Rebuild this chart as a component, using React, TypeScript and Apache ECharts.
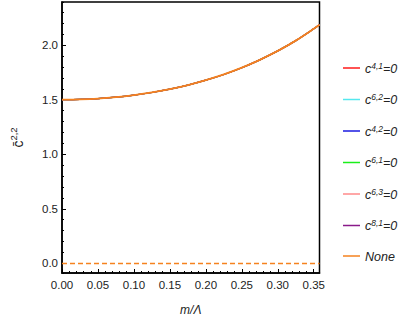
import React, { useEffect, useRef } from "react";
import * as echarts from "echarts";

const mValues = [0, 0.025, 0.05, 0.075, 0.1, 0.125, 0.15, 0.175, 0.2, 0.225, 0.25, 0.275, 0.3, 0.325, 0.35, 0.358];
const curveValues = [1.5, 1.503, 1.51, 1.523, 1.542, 1.566, 1.597, 1.634, 1.679, 1.731, 1.793, 1.865, 1.947, 2.041, 2.149, 2.186];
const zeroM = [0, 0.358];
const zeroValues = [0, 0];

const seriesNames = ["c41", "c62", "c42", "c61", "c63", "c81", "None"];
const seriesLabels: Record<string, string[]> = {
  c41: ["c", "4,1", "=0"],
  c62: ["c", "6,2", "=0"],
  c42: ["c", "4,2", "=0"],
  c61: ["c", "6,1", "=0"],
  c63: ["c", "6,3", "=0"],
  c81: ["c", "8,1", "=0"],
  None: ["None"],
};
const seriesColors = ["#ff1a1a", "#55e8ef", "#1a1ae0", "#1aef1a", "#ff8a8a", "#8a1a8a", "#f5821f"];

export default function App() {
  const ref = useRef<HTMLDivElement>(null);
  useEffect(() => {
    if (!ref.current) return;
    const chart = echarts.init(ref.current, undefined, { renderer: "svg" });
    const curve = mValues.map((m, i) => [m, curveValues[i]]);
    const zero = zeroM.map((m, i) => [m, zeroValues[i]]);
    const series: any[] = [];
    seriesNames.forEach((name, i) => {
      series.push({
        name,
        type: "line",
        data: curve,
        showSymbol: false,
        smooth: 0.3,
        color: seriesColors[i],
        lineStyle: { color: seriesColors[i], width: name === "None" ? 1.8 : 1.2 },
        z: 2 + i,
      });
    });
    series.push({
      name: "None",
      type: "line",
      data: zero,
      showSymbol: false,
      color: seriesColors[6],
      lineStyle: { color: seriesColors[6], width: 1.5, type: [5, 3] },
      z: 10,
    });
    const labelStyle = { color: "#222", fontSize: 11.5, fontFamily: "Liberation Sans, Arial, sans-serif" };
    chart.setOption({
      animation: false,
      grid: { show: true, left: 43, right: 87.5, top: 2, bottom: 44, borderColor: "#000", borderWidth: 1.5, containLabel: false },
      xAxis: [
        {
          type: "value",
          min: 0,
          max: 0.358,
          splitNumber: 7,
          position: "bottom",
          axisLine: { show: true, onZero: false, lineStyle: { color: "#000", width: 1.5 } },
          axisTick: { show: true, inside: true, length: 4, lineStyle: { color: "#000", width: 1 } },
          axisLabel: { ...labelStyle, margin: 6, showMaxLabel: false, formatter: (v: number) => v.toFixed(2) },
          splitLine: { show: false },
          name: "m/Λ",
          nameLocation: "middle",
          nameGap: 31,
          nameTextStyle: { color: "#222", fontSize: 12, fontStyle: "italic", fontFamily: "Liberation Sans, Arial, sans-serif" },
        },
        {
          type: "value",
          min: 0,
          max: 0.358,
          splitNumber: 36,
          position: "bottom",
          axisLine: { show: false, onZero: false },
          axisTick: { show: true, inside: true, length: 2, lineStyle: { color: "#000", width: 1 } },
          axisLabel: { show: false },
          splitLine: { show: false },
        },
      ],
      yAxis: [
        {
          type: "value",
          min: -0.088,
          max: 2.395,
          splitNumber: 5,
          position: "left",
          axisLine: { show: true, onZero: false, lineStyle: { color: "#000", width: 1.5 } },
          axisTick: { show: true, inside: true, length: 4, lineStyle: { color: "#000", width: 1 } },
          axisLabel: { ...labelStyle, margin: 4, showMinLabel: false, showMaxLabel: false, formatter: (v: number) => v.toFixed(1) },
          splitLine: { show: false },
          name: "{c|c\u0304}{s|2,2}",
          nameLocation: "middle",
          nameRotate: 90,
          nameGap: 37,
          nameTextStyle: {
            rich: {
              c: { fontSize: 14, color: "#222", fontFamily: "Liberation Sans, Arial, sans-serif", lineHeight: 17, verticalAlign: "bottom" },
              s: { fontSize: 9.5, color: "#222", fontFamily: "Liberation Sans, Arial, sans-serif", lineHeight: 17, verticalAlign: "top" },
            },
          },
        },
        {
          type: "value",
          min: -0.088,
          max: 2.395,
          splitNumber: 25,
          position: "left",
          axisLine: { show: false, onZero: false },
          axisTick: { show: true, inside: true, length: 2, lineStyle: { color: "#000", width: 1 } },
          axisLabel: { show: false },
          splitLine: { show: false },
        },
      ],
      legend: {
        orient: "vertical",
        left: 338,
        top: 56,
        itemWidth: 17,
        itemHeight: 1.5,
        itemGap: 17.5,
        icon: "rect",
        data: seriesNames,
        formatter: (name: string) => {
          const p = seriesLabels[name];
          if (p.length === 1) return `{i|${p[0]}}`;
          return `{i|${p[0]}}{s|${p[1]}}{i|${p[2]}}`;
        },
        textStyle: {
          rich: {
            i: { fontSize: 12.5, fontStyle: "italic", color: "#222", fontFamily: "Liberation Sans, Arial, sans-serif", lineHeight: 14, verticalAlign: "bottom" },
            s: { fontSize: 8.5, fontStyle: "italic", color: "#222", fontFamily: "Liberation Sans, Arial, sans-serif", lineHeight: 14, verticalAlign: "top" },
          },
        },
      },
      series,
    });
    return () => chart.dispose();
  }, []);
  return <div ref={ref} style={{ position: "absolute", left: 0, top: 0, width: 407, height: 321 }} />;
}
